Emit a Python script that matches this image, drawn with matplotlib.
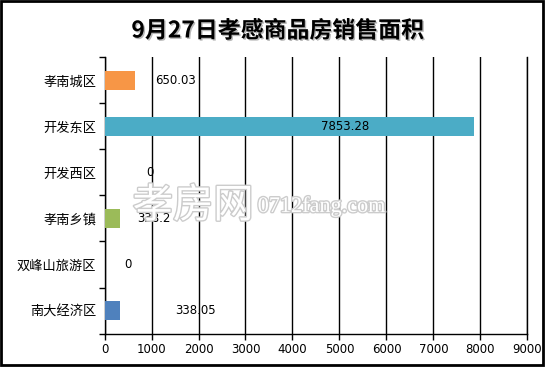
import matplotlib
matplotlib.use("Agg")
import matplotlib.pyplot as plt
import matplotlib.patheffects as pe
from matplotlib.patches import Rectangle

plt.rcParams['font.family'] = ['Noto Sans CJK SC', 'DejaVu Sans']

# data, top to bottom as in the chart
districts = ['孝南城区', '开发东区', '开发西区', '孝南乡镇', '双峰山旅游区', '南大经济区']
areas = [650.03, 7853.28, 0, 338.2, 0, 338.05]
area_labels = ['650.03', '7853.28', '0', '338.2', '0', '338.05']
bar_colors = ['#F79646', '#4BACC6', '#8064A2', '#9BBB59', '#C0504D', '#4F81BD']
x_ticks = list(range(0, 9001, 1000))
title = '9月27日孝感商品房销售面积'

# where excel dropped the value labels (x in data units, alignment)
label_pos = [(1070, 'left'), (5130, 'center'), (960, 'center'),
             (685, 'left'), (500, 'center'), (1500, 'left')]

fig = plt.figure(figsize=(5.46, 3.69), dpi=100)
ax = fig.add_axes([0.1914, 0.0962, 0.7747, 0.748])

ypos = list(range(len(districts)))
ax.barh(ypos, areas, height=0.43, color=bar_colors, zorder=3)

for y, txt, (lx, ha) in zip(ypos, area_labels, label_pos):
    ax.text(lx, y, txt, ha=ha, va='center', fontsize=8.5, color='black',
            family=['DejaVu Sans'], zorder=4)

ax.set_xlim(0, 9000)
ax.set_ylim(len(districts) - 0.5, -0.5)
ax.set_xticks(x_ticks)
ax.set_xticklabels([str(t) for t in x_ticks], fontsize=8.5, family=['DejaVu Sans'])

# tick marks between categories, labels on the categories
ax.set_yticks([i - 0.5 for i in range(len(districts) + 1)])
ax.set_yticklabels([])
ax.set_yticks(ypos, minor=True)
ax.set_yticklabels(districts, minor=True, fontsize=9.5)
ax.tick_params(axis='y', which='minor', length=0, pad=6)
ax.tick_params(axis='y', which='major', length=4, width=1, direction='out')
ax.tick_params(axis='x', length=4, width=1, direction='out', pad=3)

ax.grid(axis='x', color='black', linewidth=1, zorder=0)
ax.set_axisbelow(True)
ax.spines['top'].set_visible(False)
for s in ['left', 'bottom', 'right']:
    ax.spines[s].set_color('black')
    ax.spines[s].set_linewidth(1)

fig.text(0.508, 0.916, title, ha='center', va='center', fontsize=16.5,
         fontweight='bold',
         path_effects=[pe.withSimplePatchShadow(offset=(1, -1), shadow_rgbFace='#888888', alpha=0.6)])

# watermark
stroke = [pe.withStroke(linewidth=2, foreground='#cccccc')]
fig.text(0.243, 0.442, '孝房网', ha='left', va='center', fontsize=29,
         color='white', path_effects=stroke, zorder=5)
fig.text(0.472, 0.439, '0712fang.com', ha='left', va='center', fontsize=16,
         color='white', family=['Liberation Serif'], path_effects=stroke, zorder=5)

fig.patches.append(Rectangle((0.002, 0.011), 0.992, 0.986, transform=fig.transFigure,
                             fill=False, edgecolor='black', linewidth=2))

fig.savefig('out.png', dpi=100)
